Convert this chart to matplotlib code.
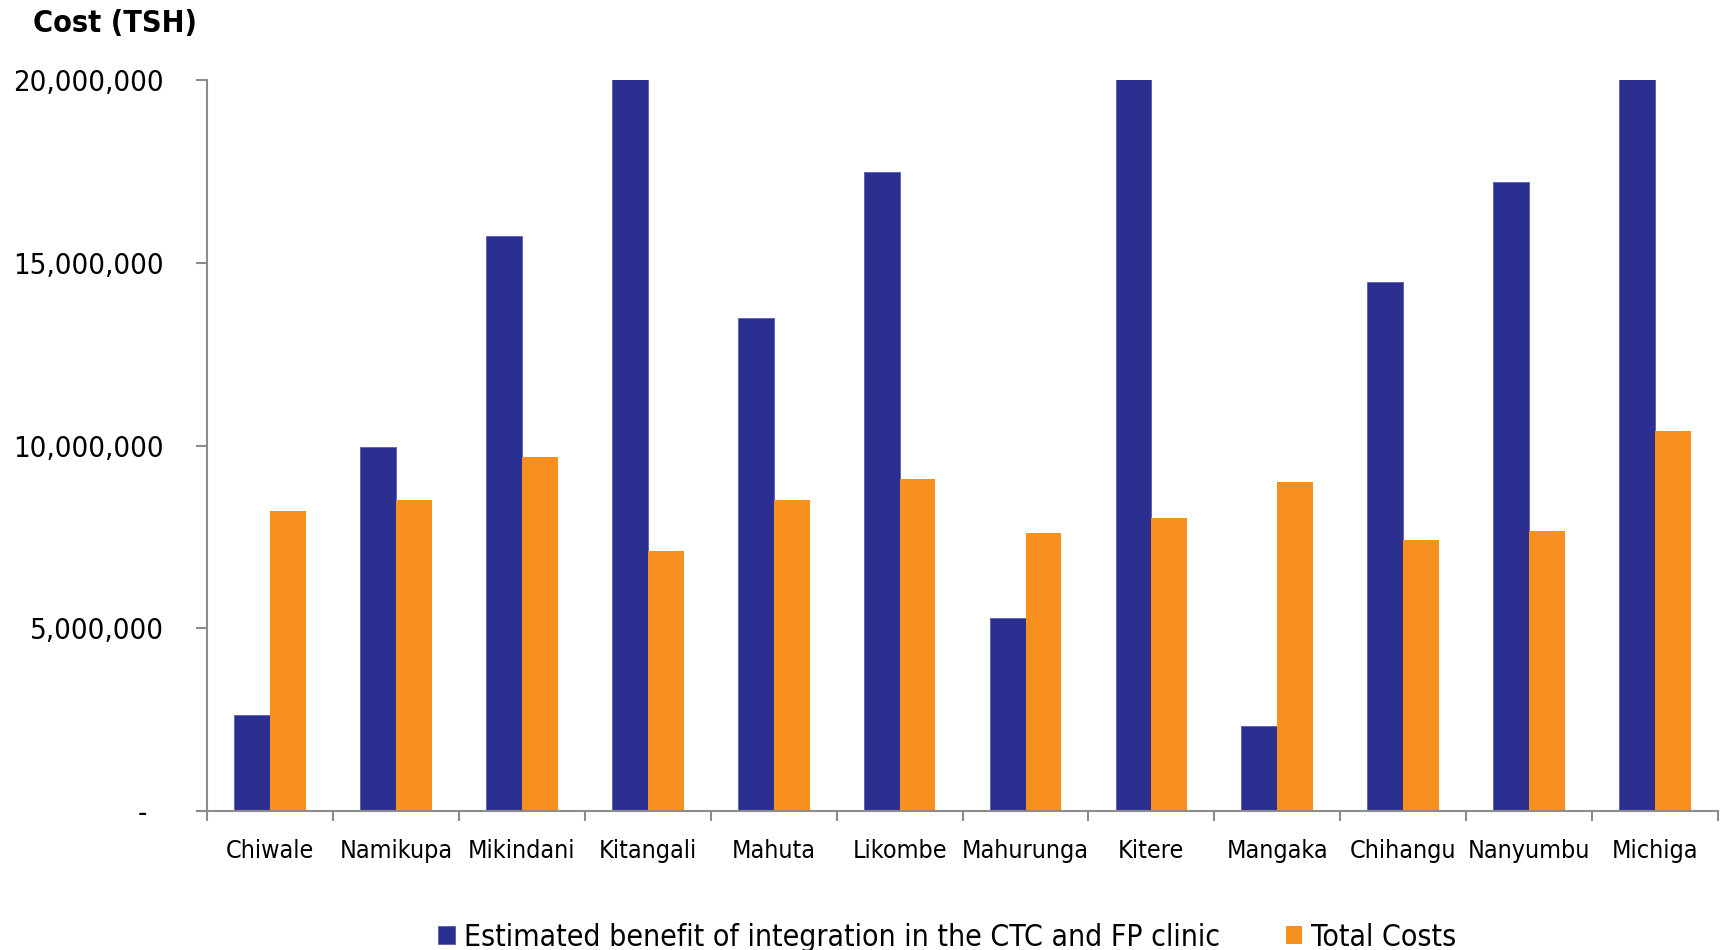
import matplotlib.pyplot as plt
import numpy as np
from matplotlib import font_manager
from matplotlib.ticker import FuncFormatter

# prefer a condensed face if one is installed
cond = font_manager.FontProperties(family='DejaVu Sans', stretch='condensed')
cond_path = font_manager.findfont(cond, fallback_to_default=False)
if 'Condensed' in cond_path:
    plt.rcParams['font.family'] = ['DejaVu Sans']
    plt.rcParams['font.stretch'] = 'condensed'
    sz = dict(title=22, ytick=21, xtick=18, legend=21.6)
else:
    plt.rcParams['font.family'] = ['Liberation Sans', 'DejaVu Sans']
    sz = dict(title=21, ytick=20, xtick=17, legend=20)

sites = ['Chiwale', 'Namikupa', 'Mikindani', 'Kitangali', 'Mahuta', 'Likombe',
         'Mahurunga', 'Kitere', 'Mangaka', 'Chihangu', 'Nanyumbu', 'Michiga']
benefit = [2620000, 9950000, 15730000, 21500000, 13500000, 17470000,
           5290000, 21500000, 2320000, 14470000, 17200000, 21500000]
total_costs = [8210000, 8510000, 9680000, 7130000, 8510000, 9080000,
               7610000, 8030000, 8990000, 7430000, 7670000, 10410000]

blue = '#2B2F8F'
orange = '#F7901E'
grey = '#8C8C8C'

fig = plt.figure(figsize=(17.25, 9.5), dpi=100)
ax = fig.add_axes([0.12, 0.146, 0.876, 0.77])

x = np.arange(len(sites))
w = 0.285
ax.bar(x - w / 2, benefit, w, color=blue, edgecolor='#5A5EB0', linewidth=0.6,
       label='Estimated benefit of integration in the CTC and FP clinic')
ax.bar(x + w / 2, total_costs, w, color=orange,
       label='Total Costs')

ax.set_xlim(-0.5, len(sites) - 0.5)
ax.set_ylim(0, 20000000)
ax.set_yticks([0, 5000000, 10000000, 15000000, 20000000])
ax.yaxis.set_major_formatter(
    FuncFormatter(lambda v, p: '-\u2007' if v == 0 else f'{int(v):,}'))
ax.tick_params(axis='y', labelsize=sz['ytick'], length=8, width=1.5,
               color=grey, pad=23)

# category labels centred, ticks on the boundaries
ax.set_xticks(x)
ax.set_xticklabels(sites, fontsize=sz['xtick'])
ax.tick_params(axis='x', which='major', length=0, pad=20)
ax.set_xticks(np.arange(len(sites) + 1) - 0.5, minor=True)
ax.tick_params(axis='x', which='minor', length=7, width=1.5, color=grey)

for side in ['top', 'right']:
    ax.spines[side].set_visible(False)
for side in ['left', 'bottom']:
    ax.spines[side].set_color(grey)
    ax.spines[side].set_linewidth(1.5)

fig.text(0.019, 0.975, 'Cost (TSH)', fontsize=sz['title'], fontweight='bold',
         va='center')

ax.legend(loc='center', bbox_to_anchor=(0.49, -0.172), ncol=2, frameon=False,
          fontsize=sz['legend'], handlelength=0.55, handleheight=0.55,
          handletextpad=0.3, columnspacing=2.2)

fig.savefig('out.png', dpi=100)
